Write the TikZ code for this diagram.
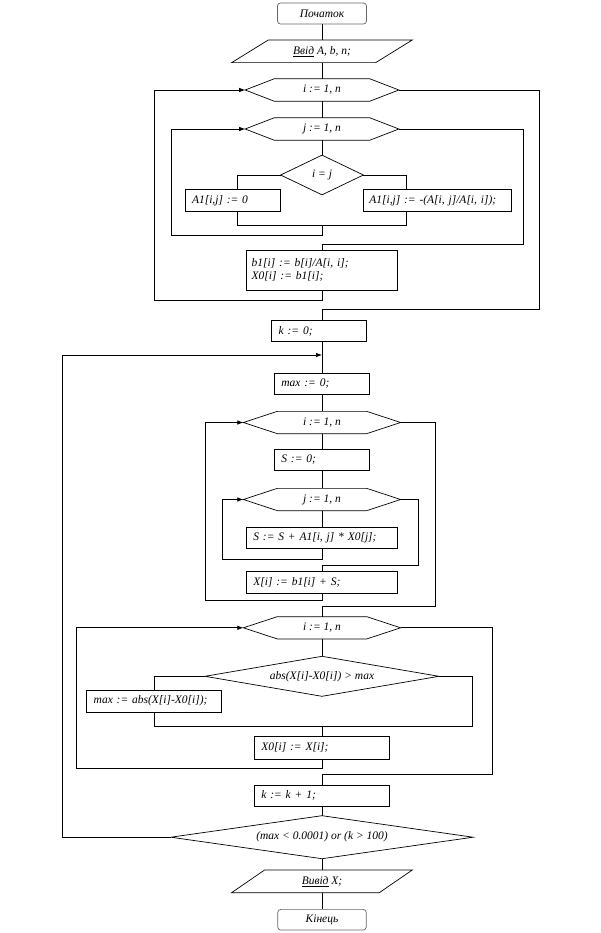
\documentclass[tikz,border=0pt]{standalone}
\usepackage{fontspec}
\setmainfont{Liberation Serif}
\usetikzlibrary{arrows.meta}
\newcommand\drawhex[2]{\draw[fl] (#1.west) -- ([xshift=#2]#1.north west) -- ([xshift=-#2]#1.north east) -- (#1.east) -- ([xshift=-#2]#1.south east) -- ([xshift=#2]#1.south west) -- cycle;}
\newcommand\drawdia[1]{\draw[fl] (#1.west) -- (#1.north) -- (#1.east) -- (#1.south) -- cycle;}
\newcommand\drawpar[2]{\draw[fl] ([xshift=#2]#1.north west) -- (#1.north east) -- ([xshift=-#2]#1.south east) -- (#1.south west) -- cycle;}
\begin{document}
\begin{tikzpicture}[x=1pt,y=-1pt,line width=0.7pt,
  every node/.style={font=\fontsize{11.5}{13.5}\selectfont\itshape, inner sep=0pt},
  fl/.style={line width=0.7pt},
  shp/.style 2 args={rectangle, minimum width=#1, minimum height=#2, align=center},
  box/.style 2 args={draw, rectangle, text width=#1, minimum height=#2, inner xsep=7pt, align=left},
  term/.style={draw=black!60, rounded corners=3pt, rectangle, minimum width=89pt, minimum height=21pt},
  arr/.style={-{Latex[length=6pt,width=4.5pt]}}]
\fill[white] (0,0) rectangle (600,933);
\useasboundingbox (0,0) rectangle (600,933);

% nodes
\node[term] (start) at (322,13.5) {Початок};
\node[shp={180pt}{22pt}] (inp) at (322,51.3) {\underline{Ввід} A, b, n;};
\drawpar{inp}{36.7pt}
\node[shp={153pt}{21.7pt}] (hI1) at (322,90) {i := 1, n};
\drawhex{hI1}{29pt}
\node[shp={153pt}{21.7pt}] (hJ1) at (322,129) {j := 1, n};
\drawhex{hJ1}{29pt}
\node[shp={82pt}{39pt}] (dec1) at (322,175) {i = j};
\drawdia{dec1}
\node[box={81pt}{22pt}] (a10) at (232.5,200.5) {A1[i,j] := 0};
\node[box={136.4pt}{22pt}, inner xsep=6pt] (a1r) at (437.5,200.5) {A1[i,j] := -(A[i, j]/A[i, i]);};
\node[box={140.6pt}{40pt}, inner xsep=5pt] (b1) at (322,270) {b1[i] := b[i]/A[i, i];\\X0[i] := b1[i];};
\node[box={81pt}{21pt}] (k0) at (319.2,331.2) {k := 0;};
\node[box={81.3pt}{20.7pt}] (max0) at (322,383.7) {max := 0;};
\node[shp={156.6pt}{21.6pt}] (hI2) at (322,422.5) {i := 1, n};
\drawhex{hI2}{34pt}
\node[box={81.3pt}{21.4pt}] (s0) at (322,460) {S := 0;};
\node[shp={156.6pt}{21.6pt}] (hJ2) at (322,499.5) {j := 1, n};
\drawhex{hJ2}{34pt}
\node[box={137.3pt}{21pt}] (sAdd) at (322,537.8) {S := S + A1[i, j] * X0[j];};
\node[box={137.3pt}{21.6pt}] (xi) at (322,582.5) {X[i] := b1[i] + S;};
\node[shp={156.6pt}{21.6pt}] (hI3) at (322,627.8) {i := 1, n};
\drawhex{hI3}{34pt}
\node[shp={233.3pt}{39.3pt}] (dec2) at (322,676.3) {abs(X[i]-X0[i]) > max};
\drawdia{dec2}
\node[box={121pt}{22.3pt}] (maxAbs) at (154.2,701.2) {max := abs(X[i]-X0[i]);};
\node[box={121.3pt}{22.3pt}] (x0) at (322,747.8) {X0[i] := X[i];};
\node[box={121.3pt}{21.7pt}] (kInc) at (322,795.8) {k := k + 1;};
\node[shp={301.6pt}{42.3pt}] (dec3) at (322,837.2) {(max < 0.0001) or (k > 100)};
\drawdia{dec3}
\node[shp={180pt}{22pt}] (out) at (322,881.3) {\underline{Вивід} X;};
\drawpar{out}{33pt}
\node[term, minimum width=88.4pt, minimum height=20.7pt] (end) at (322,919.7) {Кінець};

% coordinates
\coordinate (i1bot) at (322,300.7);
\coordinate (i1L) at (154,300.7);
\coordinate (i1R) at (539,309.3);
\coordinate (i1out) at (322,309.3);
\coordinate (j1m) at (322,225);
\coordinate (j1b) at (322,235);
\coordinate (j1L) at (171.7,235);
\coordinate (j1R) at (523.3,244);
\coordinate (j1out) at (322,244);
\coordinate (m1) at (322,355);
\coordinate (oL) at (62.7,355);
\coordinate (j2b) at (322,559);
\coordinate (j2L) at (222.3,559);
\coordinate (j2R) at (418.3,565);
\coordinate (j2out) at (322,565);
\coordinate (i2b) at (322,600.7);
\coordinate (i2L) at (205,600.7);
\coordinate (i2R) at (435.7,606.7);
\coordinate (i2out) at (322,606.7);
\coordinate (d2m) at (322,726.7);
\coordinate (d2R) at (472.3,726.7);
\coordinate (i3b) at (322,768.3);
\coordinate (i3L) at (76,768.3);
\coordinate (i3R) at (492.7,774);
\coordinate (i3out) at (322,774);

% connectors
\draw (start) -- (inp);
\draw (inp) -- (hI1);
\draw (hI1) -- (hJ1);
\draw (hJ1) -- (dec1);
\draw (dec1.west) -| ([xshift=5.2pt]a10.north);
\draw (dec1.east) -| ([xshift=-30.8pt]a1r.north);
\draw ([xshift=5.2pt]a10.south) |- (j1m);
\draw ([xshift=-30.8pt]a1r.south) |- (j1m);
\draw[arr] (j1m) -- (j1b) -- (j1L) |- (hJ1.west);
\draw (hJ1.east) -| (j1R) -- (j1out) -- (b1.north);
\draw[arr] (b1.south) -- (i1bot) -- (i1L) |- (hI1.west);
\draw (hI1.east) -| (i1R) -- (i1out) -- (i1out |- k0.north);
\draw (k0.south -| m1) -- (max0.north);
\draw (max0) -- (hI2);
\draw (hI2) -- (s0);
\draw (s0) -- (hJ2);
\draw (hJ2) -- (sAdd);
\draw[arr] (sAdd.south) -- (j2b) -- (j2L) |- (hJ2.west);
\draw (hJ2.east) -| (j2R) -- (j2out) -- (xi.north);
\draw[arr] (xi.south) -- (i2b) -- (i2L) |- (hI2.west);
\draw (hI2.east) -| (i2R) -- (i2out) -- (hI3.north);
\draw (hI3) -- (dec2);
\draw (dec2.west) -| (maxAbs.north);
\draw (dec2.east) -| (d2R) -- (d2m);
\draw (maxAbs.south) |- (d2m);
\draw (d2m) -- (x0.north);
\draw[arr] (x0.south) -- (i3b) -- (i3L) |- (hI3.west);
\draw (hI3.east) -| (i3R) -- (i3out) -- (kInc.north);
\draw (kInc) -- (dec3);
\draw[arr] (dec3.west) -| (oL) -- (m1);
\draw (dec3) -- (out);
\draw (out) -- (end);
\end{tikzpicture}
\end{document}
